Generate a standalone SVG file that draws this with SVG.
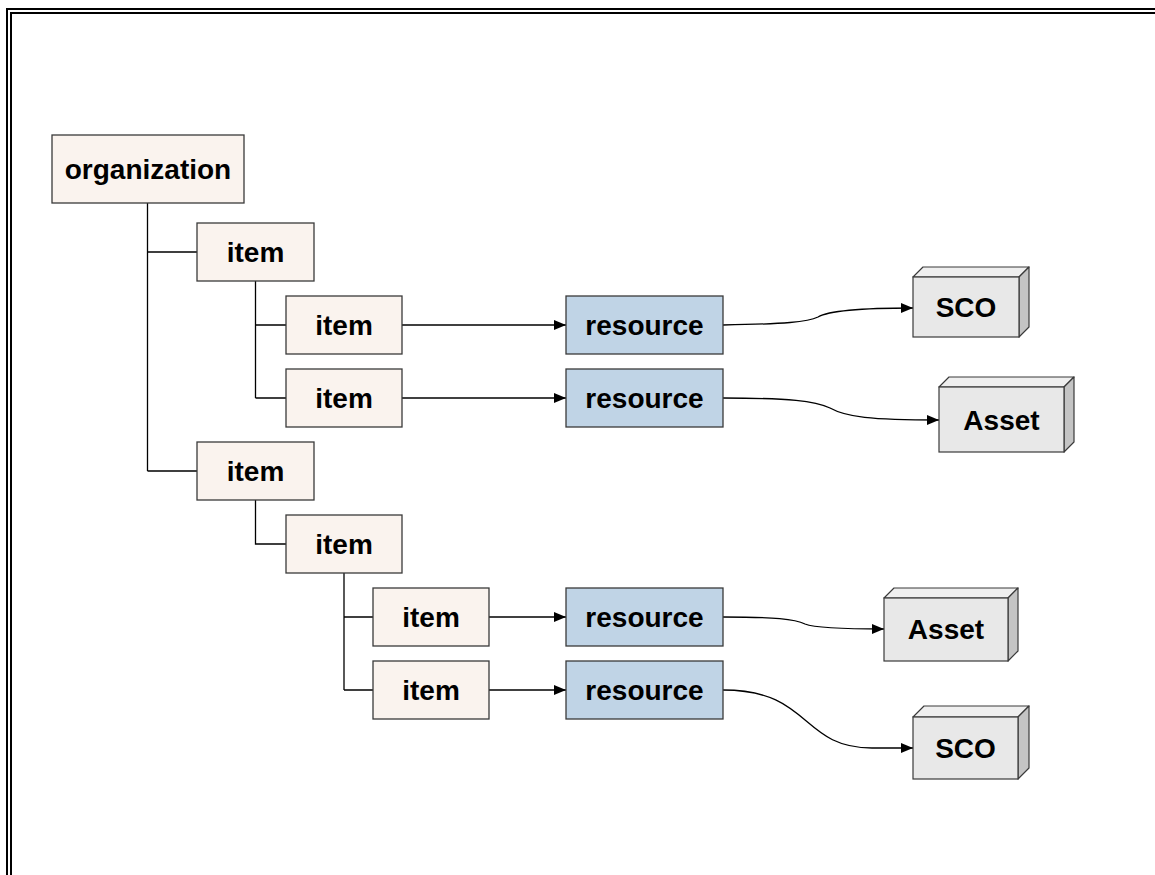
<svg xmlns="http://www.w3.org/2000/svg" width="1155" height="875" viewBox="0 0 1155 875">
<defs>
<style>
.item{fill:#FAF3EE;stroke:#3a3a3a;stroke-width:1.3}
.res{fill:#C0D4E6;stroke:#3a3a3a;stroke-width:1.3}
.front{fill:#E8E8E8;stroke:#3a3a3a;stroke-width:1.2}
.top{fill:#EFEFEF;stroke:#3a3a3a;stroke-width:1.2;stroke-linejoin:round}
.side{fill:#C4C4C4;stroke:#3a3a3a;stroke-width:1.2;stroke-linejoin:round}
.lbl{font-family:"Liberation Sans",Arial,sans-serif;font-weight:bold;font-size:28px;fill:#000;text-anchor:middle}
.ln{fill:none;stroke:#000;stroke-width:1.3}
.arr{fill:none;stroke:#000;stroke-width:1.3;marker-end:url(#ah)}
.frame{fill:none;stroke:#000;stroke-width:2}
</style>
<marker id="ah" markerWidth="13" markerHeight="11" refX="12" refY="5.5" orient="auto" markerUnits="userSpaceOnUse">
<path d="M0,0.5 L12,5.5 L0,10.5 Z" fill="#000"/>
</marker>
</defs>
<rect width="1155" height="875" fill="#fff"/>
<g id="frame">
<path class="frame" d="M7,875 V9 H1155"/>
<path class="frame" d="M11,875 V13 H1155"/>
</g>
<g id="connectors">
<path class="ln" d="M147.5,203 V471 M147.5,252 H197 M147.5,471 H197"/>
<path class="ln" d="M255.5,281 V398 M255.5,325 H286 M255.5,398 H286"/>
<path class="ln" d="M255.5,500 V544 H286"/>
<path class="ln" d="M344,573 V690 M344,617 H373 M344,690 H373"/>
<path class="arr" d="M402,325 H566"/>
<path class="arr" d="M402,398 H566"/>
<path class="arr" d="M489,617 H566"/>
<path class="arr" d="M489,690 H566"/>
<path class="arr" d="M723,325 C785,324 808,322 818,317 C828,311 860,308 913,308"/>
<path class="arr" d="M723,398 C790,398 815,401 830,408 C846,417 870,420 939,420"/>
<path class="arr" d="M723,617 C775,617 795,619 805,624 C815,628 840,629 884,629"/>
<path class="arr" d="M723,690 C812,690 800,748 872,748 L913,748"/>
</g>
<g id="organization"><rect class="item" x="52" y="135" width="192" height="68"/><text class="lbl" x="148" y="179">organization</text></g>
<g id="itemA"><rect class="item" x="197" y="223" width="117" height="58"/><text class="lbl" x="255.5" y="262">item</text></g>
<g id="itemA1"><rect class="item" x="286" y="296" width="116" height="58"/><text class="lbl" x="344" y="335">item</text></g>
<g id="itemA2"><rect class="item" x="286" y="369" width="116" height="58"/><text class="lbl" x="344" y="408">item</text></g>
<g id="itemB"><rect class="item" x="197" y="442" width="117" height="58"/><text class="lbl" x="255.5" y="481">item</text></g>
<g id="itemB1"><rect class="item" x="286" y="515" width="116" height="58"/><text class="lbl" x="344" y="554">item</text></g>
<g id="itemB1a"><rect class="item" x="373" y="588" width="116" height="58"/><text class="lbl" x="431" y="627">item</text></g>
<g id="itemB1b"><rect class="item" x="373" y="661" width="116" height="58"/><text class="lbl" x="431" y="700">item</text></g>
<g id="res1"><rect class="res" x="566" y="296" width="157" height="58"/><text class="lbl" x="644.5" y="335">resource</text></g>
<g id="res2"><rect class="res" x="566" y="369" width="157" height="58"/><text class="lbl" x="644.5" y="408">resource</text></g>
<g id="res3"><rect class="res" x="566" y="588" width="157" height="58"/><text class="lbl" x="644.5" y="627">resource</text></g>
<g id="res4"><rect class="res" x="566" y="661" width="157" height="58"/><text class="lbl" x="644.5" y="700">resource</text></g>
<g id="sco1">
<polygon class="top" points="913,277 923,267 1029,267 1019,277"/>
<polygon class="side" points="1019,277 1029,267 1029,327 1019,337"/>
<rect class="front" x="913" y="277" width="106" height="60"/>
<text class="lbl" x="966" y="317">SCO</text>
</g>
<g id="asset1">
<polygon class="top" points="939,387 949,377 1074,377 1064,387"/>
<polygon class="side" points="1064,387 1074,377 1074,442 1064,452"/>
<rect class="front" x="939" y="387" width="125" height="65"/>
<text class="lbl" x="1001.5" y="430">Asset</text>
</g>
<g id="asset2">
<polygon class="top" points="884,598 894,588 1018,588 1008,598"/>
<polygon class="side" points="1008,598 1018,588 1018,651 1008,661"/>
<rect class="front" x="884" y="598" width="124" height="63"/>
<text class="lbl" x="946" y="639">Asset</text>
</g>
<g id="sco2">
<polygon class="top" points="913,717 924,706 1029,706 1018,717"/>
<polygon class="side" points="1018,717 1029,706 1029,768 1018,779"/>
<rect class="front" x="913" y="717" width="105" height="62"/>
<text class="lbl" x="965.5" y="758">SCO</text>
</g>
</svg>
